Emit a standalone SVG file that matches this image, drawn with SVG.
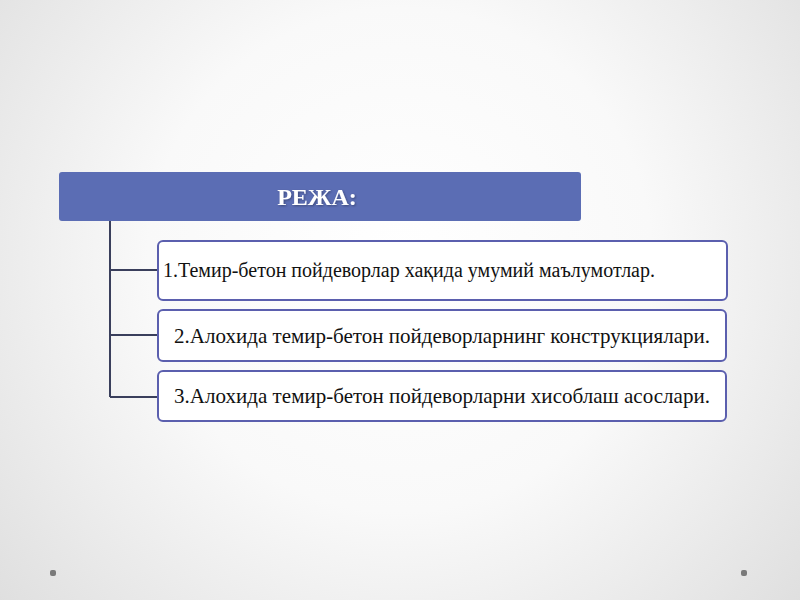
<svg xmlns="http://www.w3.org/2000/svg" width="800" height="600" viewBox="0 0 800 600">
<defs>
<radialGradient id="bg" cx="400" cy="260" r="560" gradientUnits="userSpaceOnUse">
<stop offset="0" stop-color="#ffffff"/>
<stop offset="0.45" stop-color="#f9f9f9"/>
<stop offset="1" stop-color="#dcdcdc"/>
</radialGradient>
<filter id="sh" x="-10%" y="-30%" width="120%" height="160%">
<feDropShadow dx="1" dy="1" stdDeviation="0.8" flood-color="#000" flood-opacity="0.35"/>
</filter>
</defs>
<style>
.item{fill:#ffffff;stroke:#5b5fae;stroke-width:2}
.conn{stroke:#3a3f5c;stroke-width:2;fill:none}
.t{font-family:"Liberation Serif","Times New Roman",serif;fill:#111111}
.h{font-family:"Liberation Serif","Times New Roman",serif;font-weight:bold;font-size:24px;fill:#ffffff}
.dot{fill:#7a7a7a}
</style>
<rect width="800" height="600" fill="url(#bg)"/>
<g id="header">
<rect x="59" y="172" width="522" height="49" rx="3" fill="#5b6db4"/>
<text class="h" x="317" y="205" text-anchor="middle" filter="url(#sh)">РЕЖА:</text>
</g>
<g id="connectors">
<path class="conn" d="M110 221 V397 M110 270 H158 M110 335 H158 M110 397 H158"/>
</g>
<g id="item1">
<rect class="item" x="158" y="241" width="569" height="59" rx="5"/>
<text class="t" x="163" y="277" font-size="20" textLength="492" lengthAdjust="spacingAndGlyphs">1.Темир-бетон пойдеворлар хақида умумий маълумотлар.</text>
</g>
<g id="item2">
<rect class="item" x="158" y="310" width="568" height="51" rx="5"/>
<text class="t" x="174" y="343" font-size="21" textLength="536" lengthAdjust="spacingAndGlyphs">2.Алохида темир-бетон пойдеворларнинг конструкциялари.</text>
</g>
<g id="item3">
<rect class="item" x="158" y="371" width="568" height="50" rx="5"/>
<text class="t" x="174" y="403" font-size="21" textLength="536" lengthAdjust="spacingAndGlyphs">3.Алохида темир-бетон пойдеворларни хисоблаш асослари.</text>
</g>
<rect class="dot" x="50" y="570" width="6" height="6" rx="2"/>
<rect class="dot" x="741" y="570" width="6" height="6" rx="2"/>
</svg>
